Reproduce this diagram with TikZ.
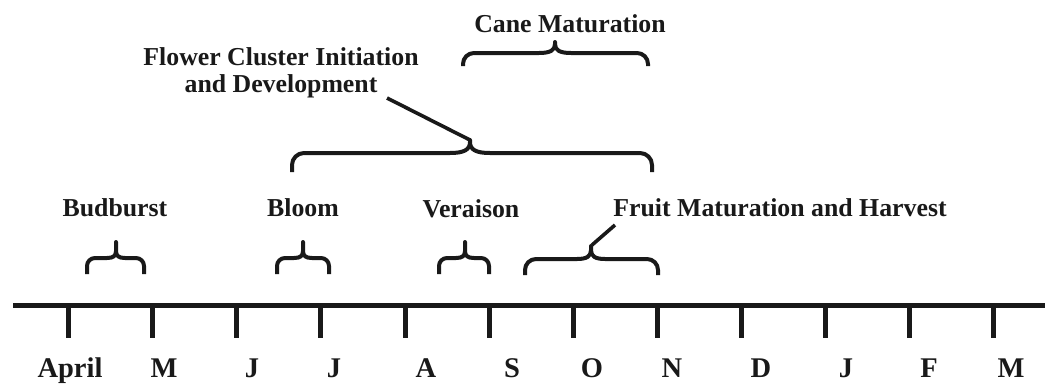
\documentclass[tikz,border=0pt]{standalone}
\usepackage{fontspec}
\setmainfont{Liberation Serif}
\tikzset{
  month/.style={font=\fontsize{28.5}{30}\selectfont\bfseries, inner sep=0pt, anchor=base, text=black!90},
  phase/.style={font=\fontsize{25.8}{27}\selectfont\bfseries, inner sep=0pt, anchor=base, text=black!90},
  bracestyle/.style={line width=4pt, line join=round, draw=black!90},
  tickstyle/.style={line width=5pt, draw=black!90},
  leader/.style={line width=3.6pt, draw=black!90}
}
% #1 x1, #2 x2, #3 xt, #4 y bottom, #5 y middle, #6 y tip, #7 corner r, #8 tip spread, #9 tip curve height
\newcommand\grbrace[9]{%
  \draw[bracestyle] (#1,#4) -- (#1,{#5+#7})
    .. controls (#1,{#5+0.448*#7}) and ({#1+0.448*#7},#5) .. ({#1+#7},#5)
    -- ({#3-#8},#5)
    .. controls ({#3-0.3*#8},#5) and (#3,{#5-0.3*#9}) .. (#3,{#5-#9})
    -- (#3,#6) -- (#3,{#5-#9})
    .. controls (#3,{#5-0.3*#9}) and ({#3+0.3*#8},#5) .. ({#3+#8},#5)
    -- ({#2-#7},#5)
    .. controls ({#2-0.448*#7},#5) and (#2,{#5+0.448*#7}) .. (#2,{#5+#7})
    -- (#2,#4);}
\begin{document}
\begin{tikzpicture}[x=1pt,y=-1pt]
\useasboundingbox (0,0) rectangle (1047,384);
% timeline
\coordinate (tlA) at (13,305);
\coordinate (tlB) at (1045,305);
\draw[line width=5pt, draw=black!90] (tlA) -- (tlB);
\foreach \i/\x in {1/68,2/152,3/236.5,4/320.8,5/405.2,6/489.5,7/573.5,8/657.5,9/741.5,10/825.5,11/909.5,12/993.5}{
  \coordinate (t\i) at (\x,305);
  \coordinate (tb\i) at (\x,338);
  \draw[tickstyle] (t\i) -- (tb\i);
}
% month labels
\node[month] (mApr) at (70,377) {April};
\node[month] (mMay) at (164,377) {M};
\node[month] (mJun) at (252,377) {J};
\node[month] (mJul) at (334,377) {J};
\node[month] (mAug) at (426,377) {A};
\node[month] (mSep) at (512,377) {S};
\node[month] (mOct) at (592,377) {O};
\node[month] (mNov) at (672,377) {N};
\node[month] (mDec) at (761,377) {D};
\node[month] (mJan) at (846,377) {J};
\node[month] (mFeb) at (929,377) {F};
\node[month] (mMar) at (1011,377) {M};
% phase labels
\node[phase] (bud) at (115,216) {Budburst};
\node[phase] (bloom) at (303,216) {Bloom};
\node[phase] (ver) at (471,217) {Veraison};
\node[phase] (fruit) at (780,216) {Fruit Maturation and Harvest};
\node[phase] (cane) at (570,32) {Cane Maturation};
\node[phase] (fl1) at (281,65) {Flower Cluster Initiation};
\node[phase] (fl2) at (281,92) {and Development};
% braces
\grbrace{87}{144}{116}{274}{258}{242}{8}{9}{7}
\grbrace{277}{329}{303}{274}{258}{242}{8}{9}{7}
\grbrace{439}{489}{465}{274}{258}{242}{8}{9}{7}
\grbrace{525}{658}{591}{275}{259}{246}{11}{14}{9}
\grbrace{292}{652}{470}{172}{153}{140}{12}{20}{11}
\grbrace{463}{648}{555}{66}{53}{42}{11}{16}{9}
% tips and leader lines
\coordinate (flTip) at (470,140);
\coordinate (flStart) at (387,98);
\draw[leader] (flStart) -- (flTip);
\coordinate (frTip) at (592,245);
\coordinate (frStart) at (615,225);
\draw[leader] (frStart) -- (frTip);
\end{tikzpicture}
\end{document}
